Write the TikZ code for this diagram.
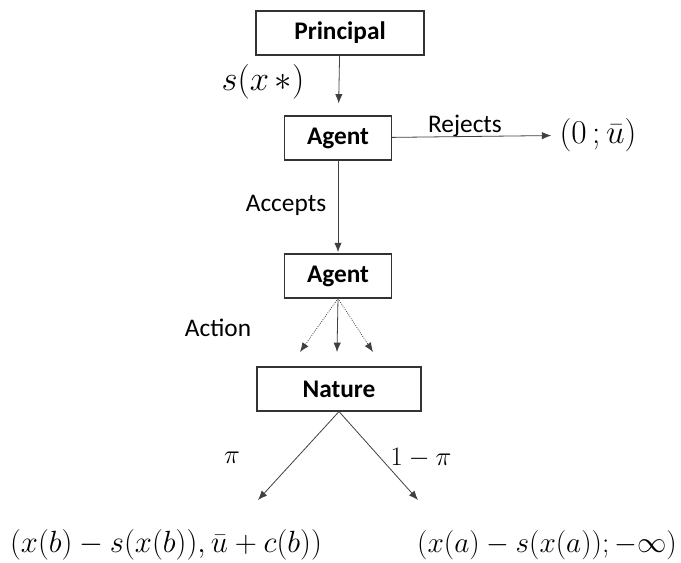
\documentclass[tikz,border=0pt]{standalone}
\usepackage{fix-cm}
\usepackage[no-math]{fontspec}
\setmainfont{Carlito}
\usetikzlibrary{arrows.meta}

\begin{document}
\begin{tikzpicture}[x=0.75pt,y=-0.75pt,font=\fontsize{19}{22}\selectfont,
  box/.style={draw=black!80,line width=0.8pt,minimum height=33pt,inner sep=0pt,font=\fontsize{19}{22}\selectfont\bfseries},
  mth/.style={font=\fontsize{#1}{28}\selectfont},
  arr/.style={-{Latex[length=7pt,width=5.5pt]},line width=0.6pt,black!75}]
  \useasboundingbox (0,0) rectangle (681,562);
  % players
  \node[box,minimum width=126pt] (principal) at (340,33) {Principal};
  \node[box,minimum width=80pt] (agent1) at (338,138) {Agent};
  \node[box,minimum width=80pt] (agent2) at (338,276) {Agent};
  \node[box,minimum width=123pt] (nature) at (339,389) {Nature};
  % payoffs
  \node[mth=25,inner sep=2pt] (reject) at (598,135) {$(0\,;\bar{u})$};
  \node[mth=23] (payb) at (166,545) {$\bigl(x(b)-s\bigl(x(b)\bigr),\bar{u}+c(b)\bigr)$};
  \node[mth=22] (paya) at (547,545) {$\bigl(x(a)-s\bigl(x(a)\bigr);-\infty\bigr)$};
  % moves
  \draw[arr,shorten >=9pt] (principal) -- (agent1);
  \node[mth=26] at (263,82) {$s(x\,\ast)$};
  \draw[arr,shorten >=4pt] (agent1) -- (reject);
  \node at (465,126) {Rejects};
  \draw[arr,shorten >=1pt] (agent1) -- (agent2);
  \node at (286,205) {Accepts};
  \node at (218,328) {Action};
  \foreach \n/\x/\s in {l/300/densely dotted,m/337/solid,r/373/densely dotted}{
    \coordinate (act\n) at (\x,352);
    \draw[arr,\s] (agent2.south) -- (act\n);}
  \coordinate (endb) at (258,500);
  \coordinate (enda) at (418,500);
  \draw[arr] (nature.south) -- (endb);
  \draw[arr] (nature.south) -- (enda);
  \node[mth=20] at (232,458) {$\pi$};
  \node[mth=20] at (421,458) {$1-\pi$};
\end{tikzpicture}
\end{document}
